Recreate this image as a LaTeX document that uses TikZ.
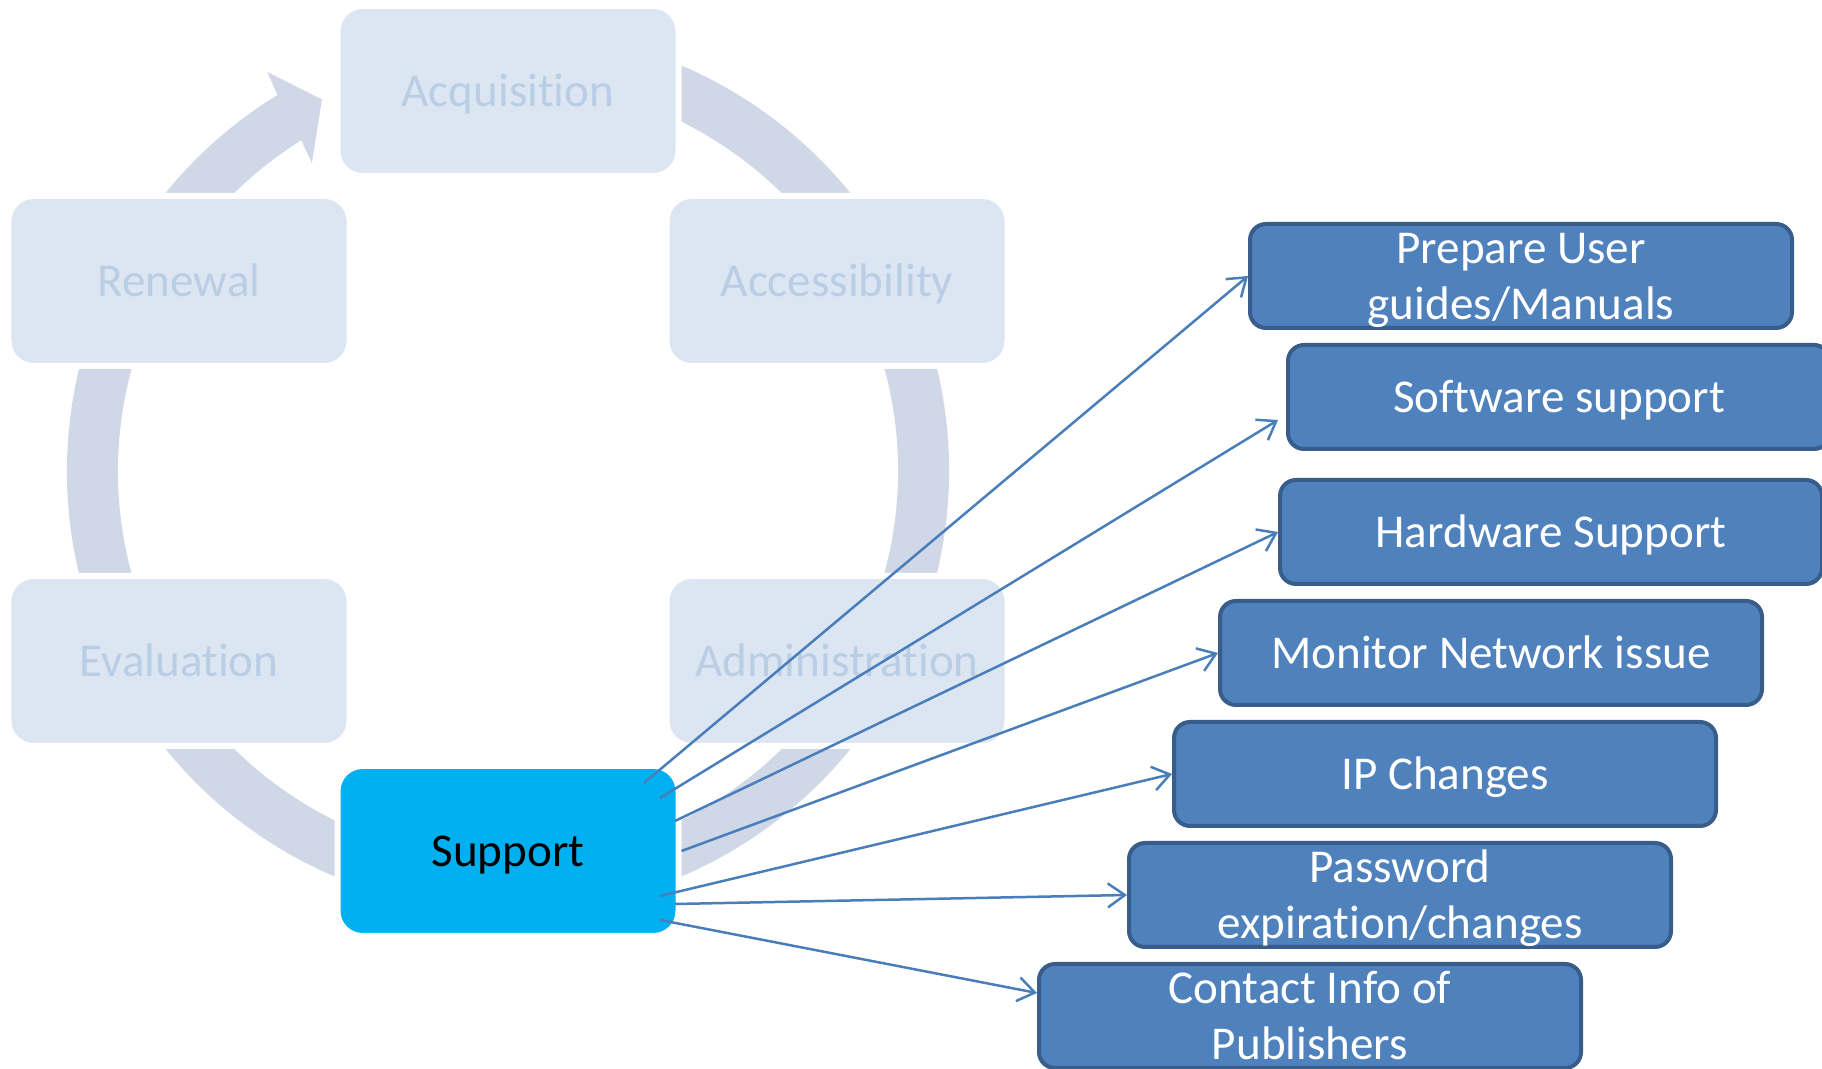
\documentclass[tikz,border=0pt]{standalone}
\usepackage{fontspec}
\setmainfont{Carlito}[Ligatures=NoCommon]
\usetikzlibrary{arrows.meta}

\definecolor{ringgray}{HTML}{D0D8E8}
\definecolor{cyclefill}{HTML}{DCE6F2}
\definecolor{cycletext}{HTML}{B9CDE5}
\definecolor{supportblue}{HTML}{00B0F0}
\definecolor{taskfill}{HTML}{4F81BD}
\definecolor{taskdraw}{HTML}{385D8A}
\definecolor{linkblue}{HTML}{4A7EBB}

\begin{document}
\begin{tikzpicture}[font=\fontsize{13.4pt}{16.2pt}\selectfont,
        >={Straight Barb[length=1.7mm,width=2.4mm]},
        stage/.style={rectangle,rounded corners=0.25cm,minimum width=3.41cm,minimum height=1.70cm,
            fill=cyclefill,draw=white,line width=0.06cm,text=cycletext,text height=0.445cm,text depth=0.125cm},
        task/.style={rectangle,rounded corners=0.16cm,minimum width=5.42cm,minimum height=1.04cm,inner sep=0pt,
            fill=taskfill,draw=taskdraw,line width=0.04cm,text=white,align=center},
        oneline/.style={text height=0.445cm,text depth=0.125cm},
        twoline/.style={text height=0.95cm,text depth=0.07cm},
        link/.style={draw=linkblue,line width=0.025cm,->}]
        \useasboundingbox (0,0) rectangle (18.22,10.69);

        % the cycle arrow behind the stages
        \begin{scope}[shift={(5.08,5.98)}]
            \draw[ringgray,line width=0.51cm] (121:4.155) arc[start angle=121,end angle=450,radius=4.155];
            \fill[ringgray] (121.1:4.66) -- (116.6:4.155) -- (122.5:3.65) -- (122:3.90) -- (121.5:4.41) -- cycle;
        \end{scope}

        \node[stage] (c1) at (5.08,9.78) {Acquisition};
        \node[stage] (c2) at (8.37,7.88) {Accessibility};
        \node[stage] (c3) at (8.37,4.08) {Administration};
        \node[stage,fill=supportblue,text=black] (c4) at (5.08,2.18) {Support};
        \node[stage] (c5) at (1.79,4.08) {Evaluation};
        \node[stage] (c6) at (1.79,7.88) {Renewal};

        \node[task,twoline] (t1) at (15.21,7.93) {Prepare User\\guides/Manuals};
        \node[task,oneline] (t2) at (15.59,6.72) {Software support};
        \node[task,oneline] (t3) at (15.51,5.37) {Hardware Support};
        \node[task,oneline] (t4) at (14.91,4.16) {Monitor Network issue};
        \node[task,oneline] (t5) at (14.45,2.95) {IP Changes};
        \node[task,twoline] (t6) at (14.00,1.74) {Password\\expiration/changes};
        \node[task,twoline] (t7) at (13.10,0.53) {Contact Info of\\Publishers};

        \draw ([shift={(1.36,0.68)}]c4.center) edge[link] (t1.west);
        \draw ([shift={(1.52,0.53)}]c4.center) edge[link] ([shift={(-0.08,-0.23)}]t2.west);
        \draw ([shift={(1.67,0.30)}]c4.center) edge[link] (t3.west);
        \draw (c4.east) edge[link] (t4.west);
        \draw ([shift={(1.52,-0.45)}]c4.center) edge[link] (t5.west);
        \draw ([shift={(1.67,-0.53)}]c4.center) edge[link] (t6.west);
        \draw ([shift={(1.52,-0.69)}]c4.center) edge[link] ([shift={(0,0.23)}]t7.west);
\end{tikzpicture}
\end{document}
